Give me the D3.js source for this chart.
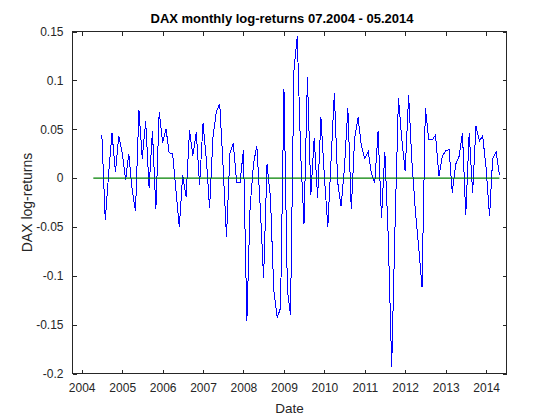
<!DOCTYPE html>
<html>
<head>
<meta charset="utf-8">
<script src="https://d3js.org/d3.v7.min.js"></script>
<style>
  body { margin: 0; background: #fff; }
  svg { font-family: "Liberation Sans", Arial, Helvetica, sans-serif; }
</style>
</head>
<body>
<svg id="chart" width="560" height="420"></svg>
<script>
// monthly log-returns, Jul 2004 .. May 2014
const logReturns = [
  0.044, -0.043, 0.005, 0.046, 0.006, 0.043, 0.026, -0.002, 0.025, -0.012,
  -0.034, 0.070, 0.020, 0.058, -0.010, 0.048, -0.032, 0.068, 0.036, 0.050,
  0.026, 0.025, -0.012, -0.050, 0.003, -0.019, 0.049, 0.023, 0.047, -0.007,
  0.056, 0.018, -0.031, 0.042, 0.068, 0.076, 0.012, -0.060, 0.025, 0.036,
  -0.005, -0.005, 0.029, -0.146, -0.030, 0.015, 0.033, -0.030, -0.102, 0.014,
  -0.020, -0.115, -0.143, -0.133, 0.091, -0.115, -0.140, 0.110, 0.145, 0.025,
  -0.047, 0.103, -0.017, 0.041, -0.020, 0.062, 0.002, -0.050, 0.015, 0.087,
  -0.004, -0.029, 0.010, 0.072, -0.032, 0.040, 0.062, 0.033, 0.020, 0.027,
  0.005, -0.005, 0.048, -0.041, 0.027, -0.060, -0.193, -0.050, 0.082, 0.040,
  0.007, 0.085, 0.018, -0.032, -0.070, -0.111, 0.072, 0.039, 0.039, 0.044,
  0.002, 0.022, 0.028, 0.029, -0.015, 0.014, 0.022, 0.046, -0.038, 0.046,
  -0.015, 0.053, 0.038, 0.043, 0.010, -0.039, 0.020, 0.027, 0.003
];
const firstMonth = new Date(2004, 6, 1);
const lastMonth = new Date(2014, 4, 1);
const zeroLineDates = [new Date(2004, 3, 15), new Date(2014, 4, 1)];
const xTickYears = [2004, 2005, 2006, 2007, 2008, 2009, 2010, 2011, 2012, 2013, 2014];
const yTicks = [-0.2, -0.15, -0.1, -0.05, 0, 0.05, 0.1, 0.15];
const yTickLabels = ["-0.2", "-0.15", "-0.1", "-0.05", "0", "0.05", "0.1", "0.15"];

const months = d3.timeMonth.range(firstMonth, d3.timeMonth.offset(lastMonth, 1));
const series = months.map((d, i) => ({ date: d, value: logReturns[i] }));

const ink = "#262626";
const box = { left: 72.5, right: 506.5, top: 31.5, bottom: 373.5 };
const svg = d3.select("#chart");

const x = d3.scaleTime()
  .domain([new Date(2003, 9, 10), new Date(2014, 6, 4)])
  .range([box.left, box.right]);
const y = d3.scaleLinear().domain([-0.2, 0.15]).range([box.bottom, box.top]);

const yearDates = xTickYears.map(yr => new Date(yr, 0, 1));

// axes, ticks pointing inward
const gBottom = svg.append("g").attr("transform", `translate(0,${box.bottom})`)
  .call(d3.axisBottom(x).tickValues(yearDates).tickFormat(d3.timeFormat("%Y"))
    .tickSizeInner(-4).tickSizeOuter(0).tickPadding(10));
const gTop = svg.append("g").attr("transform", `translate(0,${box.top})`)
  .call(d3.axisTop(x).tickValues(yearDates).tickFormat("").tickSizeInner(-4).tickSizeOuter(0));
const gLeft = svg.append("g").attr("transform", `translate(${box.left},0)`)
  .call(d3.axisLeft(y).tickValues(yTicks).tickFormat((d, i) => yTickLabels[i])
    .tickSizeInner(-4).tickSizeOuter(0).tickPadding(9));
const gRight = svg.append("g").attr("transform", `translate(${box.right},0)`)
  .call(d3.axisRight(y).tickValues(yTicks).tickFormat("").tickSizeInner(-4).tickSizeOuter(0));

[gBottom, gTop, gLeft, gRight].forEach(g => {
  g.select(".domain").remove();
  g.selectAll("line").attr("stroke", ink).attr("shape-rendering", "crispEdges");
  g.selectAll("text").attr("fill", ink).style("font-size", "12px");
});

svg.append("rect")
  .attr("x", box.left).attr("y", box.top)
  .attr("width", box.right - box.left).attr("height", box.bottom - box.top)
  .attr("fill", "none").attr("stroke", ink).attr("stroke-width", 1)
  .attr("shape-rendering", "crispEdges");

// returns line
svg.append("path")
  .datum(series)
  .attr("fill", "none")
  .attr("stroke", "#0000ff")
  .attr("stroke-width", 1)
  .attr("shape-rendering", "crispEdges")
  .attr("d", d3.line().x(d => x(d.date)).y(d => y(d.value)));

// zero line
svg.append("line")
  .attr("x1", x(zeroLineDates[0])).attr("x2", x(zeroLineDates[1]))
  .attr("y1", y(0)).attr("y2", y(0))
  .attr("stroke", "#008000").attr("stroke-width", 1.3);

svg.append("text")
  .attr("x", 282).attr("y", 23)
  .attr("text-anchor", "middle").attr("fill", "#000")
  .style("font-size", "13px").style("font-weight", "bold")
  .text("DAX monthly log-returns 07.2004 - 05.2014");

svg.append("text")
  .attr("x", (box.left + box.right) / 2).attr("y", 413)
  .attr("text-anchor", "middle").attr("fill", ink)
  .style("font-size", "13.5px")
  .text("Date");

svg.append("text")
  .attr("transform", `translate(32,${(box.top + box.bottom) / 2}) rotate(-90)`)
  .attr("text-anchor", "middle").attr("fill", ink)
  .style("font-size", "14px")
  .text("DAX log-returns");
</script>
</body>
</html>
